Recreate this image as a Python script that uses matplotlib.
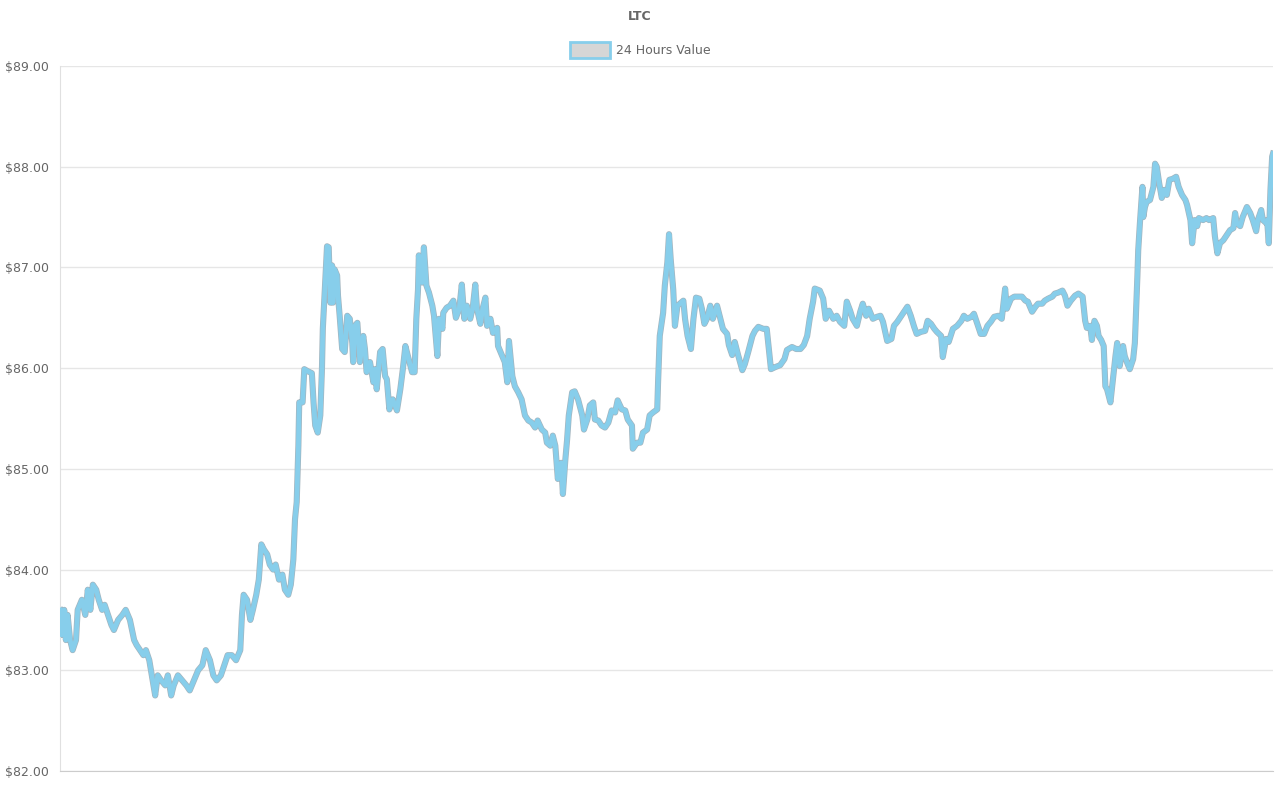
import matplotlib
matplotlib.use('Agg')
import matplotlib.pyplot as plt
from matplotlib.patches import Patch

# minutes since start of the 24h window and LTC price (USD)
minutes = [0, 2, 5, 7, 9, 12, 15, 19, 21, 26, 30, 33, 36, 39, 43, 46, 50, 53, 57, 61,
           64, 69, 74, 78, 83, 88, 91, 95, 99, 102, 106, 109, 113, 116, 120, 125, 128, 132, 135, 140,
           145, 150, 154, 159, 164, 169, 173, 178, 182, 186, 191, 195, 199, 204, 209, 214, 216, 218, 222, 226,
           229, 233, 236, 239, 242, 246, 249, 253, 256, 260, 264, 267, 271, 274, 277, 279, 281, 283, 284, 288,
           290, 294, 299, 301, 303, 306, 309, 311, 312, 315, 317, 319, 321, 323, 324, 326, 329, 330, 332, 335,
           338, 341, 344, 347, 348, 350, 353, 356, 360, 362, 364, 368, 372, 374, 376, 380, 383, 386, 388, 391,
           395, 400, 404, 407, 410, 413, 418, 421, 423, 425, 426, 430, 432, 435, 438, 442, 444, 448, 450, 454,
           455, 459, 463, 467, 470, 474, 477, 480, 483, 487, 490, 493, 495, 499, 502, 505, 507, 511, 514, 519,
           520, 525, 528, 531, 533, 537, 540, 544, 548, 552, 556, 560, 564, 567, 572, 576, 578, 582, 585, 588,
           590, 591, 595, 597, 600, 602, 604, 608, 611, 615, 620, 622, 626, 629, 633, 635, 639, 643, 647, 651,
           655, 659, 662, 667, 671, 674, 679, 680, 685, 689, 692, 697, 700, 704, 709, 710, 712, 716, 718, 721,
           723, 725, 728, 730, 733, 740, 742, 745, 749, 752, 755, 759, 762, 765, 768, 772, 775, 780, 784, 787,
           792, 794, 798, 801, 805, 810, 813, 817, 822, 825, 829, 835, 839, 841, 844, 849, 855, 860, 863, 869,
           874, 879, 883, 887, 890, 894, 896, 902, 906, 909, 913, 918, 922, 926, 931, 934, 938, 941, 946, 950,
           953, 957, 960, 965, 970, 974, 977, 982, 987, 990, 994, 998, 1002, 1006, 1010, 1014, 1017, 1022, 1027, 1030,
           1034, 1038, 1041, 1046, 1048, 1052, 1055, 1060, 1065, 1070, 1073, 1077, 1082, 1085, 1089, 1093, 1097, 1101, 1105, 1109,
           1114, 1118, 1122, 1124, 1129, 1133, 1136, 1142, 1146, 1149, 1154, 1158, 1161, 1166, 1169, 1173, 1178, 1181, 1185, 1190,
           1193, 1196, 1200, 1205, 1209, 1214, 1217, 1219, 1223, 1225, 1228, 1231, 1233, 1236, 1239, 1241, 1243, 1247, 1250, 1253,
           1255, 1258, 1262, 1264, 1267, 1270, 1274, 1276, 1279, 1280, 1282, 1285, 1286, 1288, 1290, 1294, 1298, 1300, 1302, 1305,
           1308, 1311, 1314, 1317, 1321, 1325, 1328, 1332, 1336, 1338, 1342, 1344, 1347, 1350, 1352, 1357, 1361, 1364, 1369, 1371,
           1374, 1377, 1381, 1385, 1389, 1393, 1395, 1397, 1401, 1404, 1409, 1413, 1416, 1420, 1422, 1426, 1428, 1432, 1433, 1435,
           1437, 1439, 1440]

price = [83.60, 83.35, 83.60, 83.30, 83.55, 83.30, 83.20, 83.30, 83.60, 83.70, 83.55, 83.80, 83.60, 83.85, 83.80, 83.70, 83.60, 83.65, 83.55, 83.45,
         83.40, 83.50, 83.55, 83.60, 83.50, 83.30, 83.25, 83.20, 83.15, 83.20, 83.10, 82.95, 82.75, 82.95, 82.90, 82.85, 82.95, 82.75, 82.85, 82.95,
         82.90, 82.85, 82.80, 82.90, 83.00, 83.05, 83.20, 83.10, 82.95, 82.90, 82.95, 83.05, 83.15, 83.15, 83.10, 83.20, 83.55, 83.75, 83.70, 83.50,
         83.60, 83.75, 83.90, 84.25, 84.20, 84.15, 84.05, 84.00, 84.05, 83.90, 83.95, 83.80, 83.75, 83.85, 84.10, 84.50, 84.67, 85.23, 85.66, 85.66,
         85.99, 85.97, 85.95, 85.66, 85.43, 85.36, 85.53, 86.00, 86.39, 86.88, 87.21, 87.20, 86.65, 87.02, 86.65, 86.98, 86.92, 86.72, 86.52, 86.19,
         86.16, 86.52, 86.49, 86.25, 86.06, 86.42, 86.45, 86.06, 86.32, 86.19, 85.96, 86.06, 85.86, 85.99, 85.79, 86.16, 86.19, 85.92, 85.89, 85.59,
         85.69, 85.58, 85.79, 85.99, 86.22, 86.12, 85.96, 85.96, 86.49, 86.78, 87.12, 86.85, 87.20, 86.82, 86.75, 86.62, 86.52, 86.12, 86.49, 86.39,
         86.55, 86.60, 86.62, 86.67, 86.50, 86.59, 86.83, 86.49, 86.62, 86.49, 86.60, 86.83, 86.59, 86.44, 86.60, 86.70, 86.42, 86.49, 86.35, 86.40,
         86.22, 86.12, 86.06, 85.86, 86.27, 85.92, 85.82, 85.76, 85.69, 85.53, 85.48, 85.46, 85.41, 85.48, 85.39, 85.36, 85.26, 85.23, 85.33, 85.23,
         85.00, 84.90, 85.06, 84.75, 85.10, 85.29, 85.53, 85.76, 85.77, 85.69, 85.53, 85.39, 85.49, 85.63, 85.66, 85.49, 85.48, 85.43, 85.41, 85.46,
         85.58, 85.56, 85.68, 85.59, 85.58, 85.49, 85.43, 85.20, 85.26, 85.26, 85.36, 85.39, 85.53, 85.56, 85.59, 85.86, 86.32, 86.55, 86.82, 87.05,
         87.33, 87.08, 86.78, 86.42, 86.62, 86.67, 86.49, 86.32, 86.19, 86.49, 86.70, 86.69, 86.59, 86.44, 86.49, 86.62, 86.49, 86.62, 86.49, 86.39,
         86.34, 86.23, 86.13, 86.26, 86.13, 85.98, 86.04, 86.16, 86.32, 86.37, 86.41, 86.39, 86.39, 86.23, 85.99, 86.01, 86.03, 86.09, 86.18, 86.21,
         86.19, 86.19, 86.23, 86.32, 86.49, 86.66, 86.79, 86.77, 86.69, 86.49, 86.57, 86.49, 86.52, 86.46, 86.42, 86.66, 86.57, 86.49, 86.42, 86.56,
         86.64, 86.52, 86.59, 86.49, 86.51, 86.52, 86.46, 86.27, 86.29, 86.42, 86.46, 86.51, 86.56, 86.61, 86.52, 86.41, 86.34, 86.36, 86.37, 86.47,
         86.44, 86.39, 86.36, 86.32, 86.11, 86.29, 86.26, 86.39, 86.42, 86.47, 86.52, 86.49, 86.51, 86.54, 86.44, 86.34, 86.34, 86.42, 86.46, 86.51,
         86.52, 86.49, 86.79, 86.59, 86.69, 86.71, 86.71, 86.71, 86.67, 86.66, 86.56, 86.61, 86.64, 86.64, 86.67, 86.69, 86.71, 86.74, 86.75, 86.77,
         86.72, 86.62, 86.67, 86.72, 86.74, 86.71, 86.47, 86.40, 86.42, 86.28, 86.47, 86.42, 86.32, 86.28, 86.22, 85.82, 85.79, 85.66, 85.89, 86.12,
         86.25, 86.02, 86.22, 86.12, 86.05, 85.99, 86.09, 86.25, 86.91, 87.17, 87.44, 87.80, 87.50, 87.60, 87.65, 87.67, 87.80, 88.03, 88.00, 87.83,
         87.69, 87.77, 87.72, 87.87, 87.88, 87.90, 87.80, 87.72, 87.67, 87.62, 87.47, 87.24, 87.47, 87.41, 87.49, 87.47, 87.49, 87.47, 87.49, 87.31,
         87.14, 87.24, 87.27, 87.32, 87.37, 87.39, 87.54, 87.44, 87.41, 87.50, 87.60, 87.54, 87.47, 87.36, 87.47, 87.57, 87.47, 87.44, 87.47, 87.24,
         87.77, 88.10, 88.13]

y_ticks = [82, 83, 84, 85, 86, 87, 88, 89]
y_labels = [f'${v:.2f}' for v in y_ticks]

text_col = '#666666'
line_col = '#87ceeb'

fig = plt.figure(figsize=(12.8, 8), dpi=100)
ax = fig.add_axes([60/1280, 29/800, 1213/1280, 705/800])

# thin grey rim under a thick sky-blue stroke
ax.plot(minutes, price, color='#a3b5bf', lw=4.4, zorder=2)
ax.plot(minutes, price, color=line_col, lw=3.4, zorder=3)

ax.set_xlim(0, 1440)
ax.set_ylim(82, 89)
ax.set_yticks(y_ticks)
ax.set_yticklabels(y_labels)
ax.set_xticks([])
ax.tick_params(axis='y', length=0, pad=8, labelsize=9, labelcolor=text_col)
ax.grid(axis='y', color='#e6e6e6', lw=1)
ax.set_axisbelow(True)
for s in ['top', 'right']:
    ax.spines[s].set_visible(False)
ax.spines['left'].set_color('#e0e0e0')
ax.spines['bottom'].set_color('#cccccc')

fig.text(0.5, 1 - 16/800, 'LTC', ha='center', va='center', fontsize=9,
         fontweight='bold', color=text_col)

handle = Patch(facecolor='#d6d6d6', edgecolor=line_col, lw=2)
fig.legend([handle], ['24 Hours Value'], loc='center', bbox_to_anchor=(0.5, 1 - 50/800),
           frameon=False, fontsize=9, labelcolor=text_col, handlelength=3.2,
           handleheight=1.5, handletextpad=0.5)

fig.savefig('out.png', dpi=100)
